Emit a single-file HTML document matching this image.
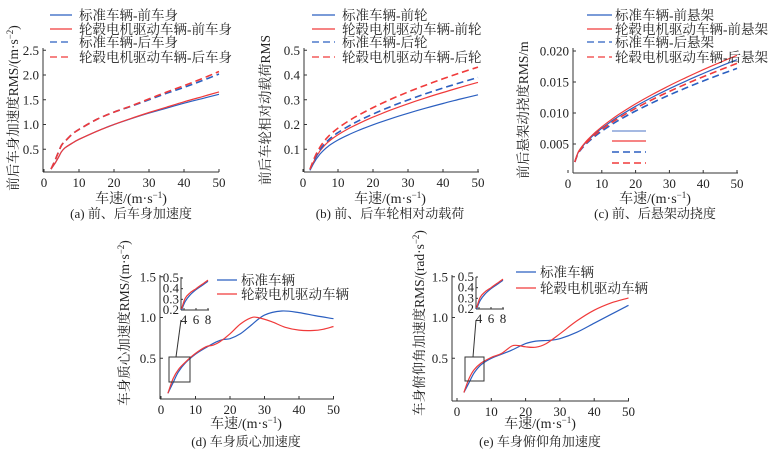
<!DOCTYPE html>
<html><head><meta charset="utf-8"><style>
body{margin:0;background:#fff;}
svg text{font-family:"Liberation Serif","Noto Serif CJK SC","Noto Sans CJK SC",serif;fill:#222;}
</style></head><body>
<svg id="s" width="772" height="455" xmlns="http://www.w3.org/2000/svg"></svg>
<script>
const S=document.getElementById('s');let H='';
const B='#2b5fc0',R='#f03a3a';
function cr(p){let d='M'+p[0][0].toFixed(1)+' '+p[0][1].toFixed(1);for(let i=0;i<p.length-1;i++){const a=p[i-1]||p[i],b=p[i],c=p[i+1],e=p[i+2]||c;d+=` C${(b[0]+(c[0]-a[0])/6).toFixed(1)} ${(b[1]+(c[1]-a[1])/6).toFixed(1)} ${(c[0]-(e[0]-b[0])/6).toFixed(1)} ${(c[1]-(e[1]-b[1])/6).toFixed(1)} ${c[0].toFixed(1)} ${c[1].toFixed(1)}`;}return d;}
function curve(pts,X,Y,col,dash,w){H+=`<path d="${cr(pts.map(q=>[X(q[0]),Y(q[1])]))}" fill="none" stroke="${col}" stroke-width="${w||1.2}" ${dash?'stroke-dasharray="7,4"':''}/>`;}
function T(x,y,s,opt){opt=opt||{};H+=`<text x="${x}" y="${y}" font-size="${opt.fs||13}" text-anchor="${opt.a||'middle'}" ${opt.r?`transform="rotate(-90 ${x} ${y})"`:''}>${s}</text>`;}
function L(x1,y1,x2,y2,c,w,dash){H+=`<line x1="${x1}" y1="${y1}" x2="${x2}" y2="${y2}" stroke="${c||'#333'}" stroke-width="${w||1}" ${dash?'stroke-dasharray="7,4"':''}/>`;}
function axes(ax,top,bot,right,X,Y,yt,xt){L(ax,top,ax,bot);L(ax,bot,right,bot);
 xt.forEach(v=>{L(X(v),bot,X(v),bot-3);T(X(v),bot+15,v);});
 yt.forEach(v=>{L(ax,Y(v[0]),ax+3,Y(v[0]));T(ax-4,Y(v[0])+4.5,v[1],{a:'end'});});}
function legend(x1,x2,tx,rows){rows.forEach((r,i)=>{const y=[15,29,42,57][i];L(x1,y,x2,y,r[0],1.3,r[1]);T(tx,y+5,r[2],{a:'start',fs:13.5});});}
const XT='车速/(m·s<tspan dy="-5" font-size="9">−1</tspan><tspan dy="5">)</tspan>';
// (a)
{const X=x=>44+x*3.5,Y=v=>174-v*49.5;axes(43,48,172,219,X,Y,[[0.5,'0.5'],[1,'1.0'],[1.5,'1.5'],[2,'2.0'],[2.5,'2.5']],[0,10,20,30,40,50]);
const f=(k)=>[[2,0.1],[3,0.2],[4,0.32],[5,0.45],[6,0.53],[8,0.62],[10,0.7],[15,0.86],[20,1.0],[25,1.12],[30,1.23],[35,1.33],[40,1.43],[45,1.52],[50,1.61]].map(q=>[q[0],q[1]*(q[0]>20?1+(q[0]-20)/30*k:1)]);
curve(f(0),X,Y,B);curve(f(0.03),X,Y,R);
const g=(e)=>[[2,0.1],[3,0.25],[4,0.42],[5,0.58],[6,0.66],[8,0.8],[10,0.9],[15,1.1],[20,1.25],[25,1.37],[30,1.5],[35,1.63],[40,1.75],[45,1.88],[50,2.02]].map(q=>[q[0],q[1]+(q[0]>20?e*(q[0]-20)/30:0)]);
curve(g(0),X,Y,B,1,1.6);curve(g(0.05),X,Y,R,1,1.6);
legend(50,72,79,[[B,0,'标准车辆-前车身'],[R,0,'轮毂电机驱动车辆-前车身'],[B,1,'标准车辆-后车身'],[R,1,'轮毂电机驱动车辆-后车身']]);
T(18,108,'前后车身加速度RMS/(m·s<tspan dy="-5" font-size="9">−2</tspan><tspan dy="5">)</tspan>',{r:1,fs:13.5});
T(131,203,XT,{fs:14});T(131,218,'(a) 前、后车身加速度');}
// (b)
{const X=x=>303+x*3.5,Y=v=>174-v*247.5;axes(304,48,172,479,X,Y,[[0.1,'0.1'],[0.2,'0.2'],[0.3,'0.3'],[0.4,'0.4'],[0.5,'0.5']],[0,10,20,30,40,50]);
const h=(e50)=>{const r=[];[2,2.5,3,3.5,4,4.5,5,6,7,8,10,13,16,20,25,30,35,40,45,50].forEach(x=>r.push([x,e50*Math.pow(x/50,0.52)*(1-Math.exp(-(x-1.5)/1.8))]));return r;};
curve(h(0.32),X,Y,B);curve(h(0.37),X,Y,R);curve(h(0.39),X,Y,B,1,1.6);curve(h(0.432),X,Y,R,1,1.6);
legend(312,335,342,[[B,0,'标准车辆-前轮'],[R,0,'轮毂电机驱动车辆-前轮'],[B,1,'标准车辆-后轮'],[R,1,'轮毂电机驱动车辆-后轮']]);
T(270,110,'前后车轮相对动载荷RMS',{r:1,fs:13.5});
T(390,203,XT,{fs:14});T(390,218,'(b) 前、后车轮相对动载荷');}
// (c)
{const X=x=>568+x*3.38,Y=v=>175-v*6200;axes(573,48,173,738,X,Y,[[0.005,'0.005'],[0.01,'0.010'],[0.015,'0.015'],[0.02,'0.020']],[0,10,20,30,40,50]);
const h=(e50)=>{const r=[];[2,3,4,5,6,8,10,13,16,20,25,30,35,40,45,50].forEach(x=>r.push([x,0.0021+(e50-0.0021)*Math.pow((x-2)/48,0.62)]));return r;};
curve(h(0.0186),X,Y,B);curve(h(0.0193),X,Y,R);curve(h(0.0172),X,Y,B,1,1.6);curve(h(0.018),X,Y,R,1,1.6);
legend(587,612,615,[[B,0,'标准车辆-前悬架'],[R,0,'轮毂电机驱动车辆-前悬架'],[B,1,'标准车辆-后悬架'],[R,1,'轮毂电机驱动车辆-后悬架']]);
L(612,131,646,131,'#6f8fd0',1.3);L(612,141,646,141,R,1.3);L(612,152,646,152,B,1.6,1);L(612,163,646,163,R,1.6,1);
T(528,110,'前后悬架动挠度RMS/m',{r:1,fs:13.5});
T(655,203,XT,{fs:14});T(655,218,'(c) 前、后悬架动挠度');}
function inset(ax,bx,bxr,top){const X=x=>ax+(x-3.5)*6,Y=v=>bx-(v-0.2)*(32/0.3);L(ax,top,ax,bx);L(ax,bx,bxr,bx);
[[0.5,'0.5'],[0.4,'0.4'],[0.3,'0.3'],[0.2,'0.2']].forEach(v=>{T(ax-2,Y(v[0])+4,v[1],{a:'end'});L(ax,Y(v[0]),ax+2,Y(v[0]));});
[4,6,8].forEach(v=>{T(X(v),bx+14,v);L(X(v),bx,X(v),bx-2);});
curve([[3.6,0.2],[4.2,0.28],[5,0.34],[6,0.39],[7,0.43],[8,0.47]],X,Y,B);
curve([[3.6,0.21],[4.2,0.31],[5,0.36],[6,0.4],[7,0.44],[8,0.48]],X,Y,R);}
// (d)
{const X=x=>161+x*3.45,Y=v=>399-v*81.5;axes(160,275,399,334,X,Y,[[0.5,'0.5'],[1,'1.0'],[1.5,'1.5']],[0,10,20,30,40,50]);
curve([[2,0.07],[3.5,0.2],[5,0.33],[7,0.44],[10,0.55],[13,0.63],[16,0.7],[18,0.73],[20,0.74],[23,0.8],[26,0.9],[30,1.03],[35,1.08],[40,1.06],[45,1.02],[50,0.985]],X,Y,B);
curve([[2,0.07],[3.5,0.25],[5,0.36],[7,0.45],[10,0.56],[13,0.64],[15,0.66],[17,0.7],[20,0.8],[23,0.92],[26,0.995],[28,1.0],[32,0.95],[36,0.88],[40,0.845],[44,0.84],[47,0.855],[50,0.89]],X,Y,R);
H+=`<rect x="169" y="357" width="21" height="25" fill="none" stroke="#333"/>`;L(176,357,181,320);
inset(181,310,209,277);
L(217,280,237,280,B,1.3);T(241,285,'标准车辆',{a:'start',fs:13.5});L(217,294,237,294,R,1.3);T(241,299,'轮毂电机驱动车辆',{a:'start',fs:13.5});
T(129,323,'车身质心加速度RMS/(m·s<tspan dy="-5" font-size="9">−2</tspan><tspan dy="5">)</tspan>',{r:1,fs:13.5});
T(246,428,XT,{fs:14});T(246,446,'(d) 车身质心加速度');}
// (e)
{const X=x=>457+x*3.43,Y=v=>399-v*81.5;axes(452,275,401,629,X,Y,[[0.5,'0.5'],[1,'1.0'],[1.5,'1.5']],[0,10,20,30,40,50]);
curve([[2,0.08],[3.5,0.2],[5,0.32],[7,0.42],[10,0.5],[13,0.55],[16,0.6],[20,0.68],[23,0.71],[27,0.72],[30,0.74],[35,0.82],[40,0.93],[45,1.04],[50,1.15]],X,Y,B);
curve([[2,0.08],[3.5,0.25],[5,0.36],[7,0.44],[10,0.51],[13,0.56],[16,0.65],[18,0.655],[20,0.64],[23,0.635],[26,0.68],[30,0.8],[35,0.96],[40,1.09],[45,1.18],[50,1.24]],X,Y,R);
H+=`<rect x="465" y="357" width="19" height="24" fill="none" stroke="#333"/>`;L(473,357,476,320);
inset(476,309,504,277);
L(516,272,536,272,B,1.3);T(540,277,'标准车辆',{a:'start',fs:13.5});L(516,288,536,288,R,1.3);T(540,293,'轮毂电机驱动车辆',{a:'start',fs:13.5});
T(424,323,'车身俯仰角加速度RMS/(rad·s<tspan dy="-5" font-size="9">−2</tspan><tspan dy="5">)</tspan>',{r:1,fs:13.5});
T(540,428,XT,{fs:14});T(540,446,'(e) 车身俯仰角加速度');}
S.innerHTML=H;
</script>
</body></html>
